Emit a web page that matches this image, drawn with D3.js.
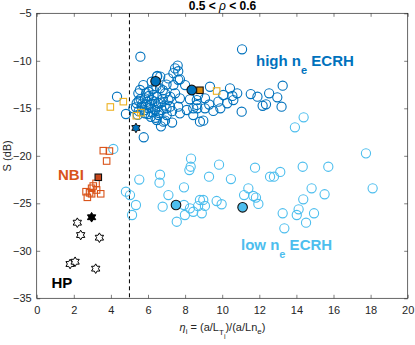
<!DOCTYPE html>
<html><head><meta charset="utf-8">
<script src="https://cdn.jsdelivr.net/npm/d3@7"></script>
<style>body{margin:0;background:#fff}svg{display:block}text{font-family:"Liberation Sans",Arial,sans-serif}</style>
</head><body>
<svg id="c" width="415" height="345"></svg>
<script>
// ---- data ----
const xTicks = [0,2,4,6,8,10,12,14,16,18,20];
const yTicks = [-35,-30,-25,-20,-15,-10,-5];
const threshold = 5;
const highNeECRH = [
 [5.59,-9.57],[4.33,-13.78],[4.81,-15.6],[5.77,-18.05],[7.60,-10.5],[7.63,-11.1],[7.72,-11.95],[6.5,-11.6],
 [11.07,-8.79],[9.34,-12.73],[9.07,-13.95],[8.63,-14.13],[8.66,-15.0],[9.07,-15.0],[9.52,-15.28],[9.79,-14.3],
 [10.06,-13.6],[10.27,-14.47],[10.42,-12.9],[10.6,-14.13],[10.55,-13.7],[10.81,-13.42],[11.05,-15.36],[11.54,-13.5],
 [12.18,-14.73],[12.36,-14.58],[12.53,-13.42],[12.97,-13.84],[13.2,-14.83],[13.26,-12.62],[8.98,-16.3],[8.44,-15.0],
 [11.9,-13.78],[6.92,-16.3],[7.37,-11.3],[7.1,-11.85],[7.63,-12.0],[8.0,-12.55],[5.75,-12.55],[5.57,-13.07],
 [6.02,-13.25],[6.65,-12.9],[6.92,-13.42],[7.46,-13.42],[7.72,-13.95],[8.26,-14.05],[8.63,-14.65],[7.63,-14.83],
 [7.72,-15.53],[8.09,-15.18],[7.19,-14.83],[6.56,-14.47],[6.2,-14.13],[5.84,-13.95],[5.39,-14.47],[5.66,-14.83],
 [5.21,-15.0],[6.02,-15.0],[6.38,-15.18],[6.74,-15.18],[5.84,-15.53],[6.56,-15.71],[7.01,-15.71],[6.83,-16.41],
 [6.47,-16.23],[8.8,-16.41],[5.48,-13.42],[8.44,-15.71],[7.1,-14.13],[6.47,-13.78],[6.66,-11.67],[6.48,-11.67],
 [7.37,-12.55],[6.1,-14.6],[6.3,-13.6],[5.95,-14.3],[6.8,-14.0],[7.3,-15.3],[5.5,-15.3],[6.15,-15.9],
 [8.7,-13.6],[9.3,-14.6],[9.9,-15.0],[7.0,-12.5],[6.2,-12.2],
 [5.6,-14.0],[5.9,-14.6],[6.2,-15.4],[6.5,-14.9],[6.7,-14.4],[5.45,-15.7],[5.8,-15.2],[6.05,-13.7],
 [6.35,-14.3],[6.6,-15.5],[6.9,-14.7],[5.7,-14.5],[6.0,-15.6],[6.25,-13.0],[6.45,-12.7],[5.9,-13.4],
 [6.8,-13.1],[7.2,-13.8],[5.5,-14.2],[6.15,-14.9],[6.4,-16.0],[5.35,-14.9],[7.0,-15.0],[6.7,-16.9],
 [7.3,-16.5],[7.46,-10.8]
];
const lowNeECRH = [
 [4.13,-19.28],[8.32,-20.3],[8.30,-21.15],[6.65,-21.99],[5.53,-22.5],[9.29,-22.2],[14.39,-15.95],[13.92,-17.0],
 [17.75,-19.74],[9.83,-20.93],[11.77,-21.25],[13.13,-21.7],[14.34,-21.15],[15.72,-21.15],[10.47,-22.45],[12.58,-22.2],
 [12.79,-22.2],[11.41,-23.42],[11.18,-24.13],[11.68,-24.23],[11.82,-24.4],[11.95,-25.07],[9.7,-24.76],[9.97,-25.1],
 [8.98,-24.65],[9.07,-25.28],[8.9,-26.05],[14.82,-23.42],[15.52,-24.05],[14.37,-24.58],[14.12,-25.63],[14.02,-26.23],
 [14.95,-26.05],[14.52,-27.04],[13.26,-26.05],[13.35,-27.63],[18.11,-23.42],[4.81,-23.78],[5.03,-24.13],[5.35,-25.18],
 [5.14,-26.23],[6.62,-22.83],[7.1,-24.13],[6.79,-25.36],[7.55,-26.94],[7.99,-26.23],[7.94,-25.18],[7.94,-23.32],
 [8.23,-21.5],[8.8,-24.65],[8.44,-25.89],[8.26,-25.53],[8.7,-25.3]
];
const highNeHighlight = [[6.41,-12.16],[8.36,-13.07]];
const lowNeHighlight = [[7.51,-25.18],[11.1,-25.42]];
const mixedSquares = [[3.97,-14.86],[4.67,-14.3],[5.37,-15.78],[5.62,-15.46],[9.7,-13.18]];
const mixedHighlight = [[8.80,-13.1]];
const nbi = [[3.59,-19.46],[3.92,-19.5],[3.77,-20.55],[3.2,-22.9],[3.05,-23.18],[2.96,-23.42],[2.66,-23.78],
 [2.73,-24.37],[2.96,-24.0],[3.45,-24.0],[3.23,-23.6],[2.85,-23.9]];
const nbiHighlight = [[3.32,-22.26]];
const hp = [[2.19,-27.04],[2.37,-28.34],[3.38,-28.62],[1.8,-31.39],[2.07,-31.15],[3.18,-31.88]];
const hpHighlight = [[2.96,-26.47]];
const blueStar = [[5.35,-17.07]];

// ---- chart ----
const svg = d3.select("#c");
const x = d3.scaleLinear().domain([0,20]).range([36.7,407.7]);
const y = d3.scaleLinear().domain([-35,-5]).range([298.3,13.3]);
const axisCol = "#262626";
const C = {dark:"#0072BD", light:"#4DBEEE", yel:"#EDB120", nbi:"#D95319"};

function styleAxis(g){
  g.select(".domain").remove();
  g.selectAll(".tick line").attr("stroke",axisCol).attr("stroke-width",0.6);
  g.selectAll(".tick text").attr("fill",axisCol).attr("font-size",11);
}
svg.append("g").attr("transform","translate(0,298.3)")
  .call(d3.axisBottom(x).tickValues(xTicks).tickSize(-3.5).tickPadding(8)).call(styleAxis);
svg.append("g").attr("transform","translate(0,13.3)")
  .call(d3.axisTop(x).tickValues(xTicks).tickSize(-3.5).tickFormat("")).call(styleAxis);
svg.append("g").attr("transform","translate(36.7,0)")
  .call(d3.axisLeft(y).tickValues(yTicks).tickSize(-3.5).tickPadding(5)).call(styleAxis);
svg.append("g").attr("transform","translate(407.7,0)")
  .call(d3.axisRight(y).tickValues(yTicks).tickSize(-3.5).tickFormat("")).call(styleAxis);
svg.append("rect").attr("x",x(0)).attr("y",y(-5)).attr("width",x(20)-x(0)).attr("height",y(-35)-y(-5))
  .attr("fill","none").attr("stroke",axisCol).attr("stroke-width",0.7);

const plot = svg.append("g");
// dashed threshold
plot.append("line").attr("x1",x(threshold)).attr("x2",x(threshold)).attr("y1",y(-5)).attr("y2",y(-35))
  .attr("stroke","#000").attr("stroke-width",1).attr("stroke-dasharray","4,3");

function circles(data, stroke, fill, r){
  plot.append("g").selectAll("circle").data(data).join("circle")
    .attr("cx",d=>x(d[0])).attr("cy",d=>y(d[1])).attr("r",r)
    .attr("fill",fill).attr("stroke",stroke).attr("stroke-width",1.1);
}
function squares(data, stroke, fill, s){
  plot.append("g").selectAll("rect").data(data).join("rect")
    .attr("x",d=>x(d[0])-s/2).attr("y",d=>y(d[1])-s/2).attr("width",s).attr("height",s)
    .attr("fill",fill).attr("stroke",stroke).attr("stroke-width",1.1);
}
function hexagram(R){
  const r = R/Math.sqrt(3), pts=[];
  for(let i=0;i<12;i++){const a=-Math.PI/2+i*Math.PI/6, rr=i%2?r:R; pts.push([rr*Math.cos(a),rr*Math.sin(a)]);}
  return "M"+pts.map(p=>p.join(",")).join("L")+"Z";
}
function stars(data, stroke, fill, R){
  plot.append("g").selectAll("path").data(data).join("path")
    .attr("transform",d=>`translate(${x(d[0])},${y(d[1])})`).attr("d",hexagram(R))
    .attr("fill",fill).attr("stroke",stroke).attr("stroke-width",1);
}
circles(highNeECRH, C.dark, "none", 4.6);
circles(lowNeECRH, C.light, "none", 4.6);
squares(mixedSquares, C.yel, "none", 6.5);
squares(nbi, C.nbi, "none", 6.5);
stars(hp, "#000", "#fff", 4.8);
circles(highNeHighlight, "#111", C.dark, 4.8);
circles(lowNeHighlight, "#111", C.light, 4.8);
squares(mixedHighlight, "#111", "#D98A0E", 6.5);
squares(nbiHighlight, "#111", "#C8461A", 6.5);
stars(hpHighlight, "#000", "#000", 4.8);
stars(blueStar, "#111", C.dark, 4.8);

// labels
function groupLabel(xp, yp, main, sub, rest, col){
  const t = svg.append("text").attr("x",xp).attr("y",yp).attr("fill",col)
    .attr("font-size",15).attr("font-weight","bold");
  t.append("tspan").text(main);
  if(sub){ t.append("tspan").attr("dy",7.5).attr("font-size",11).text(sub);
    t.append("tspan").attr("dy",-7.5).text(rest); }
}
groupLabel(256,66.3,"high n","e"," ECRH",C.dark);
groupLabel(241,250,"low n","e"," ECRH",C.light);
groupLabel(58,179.5,"NBI",null,null,C.nbi);
groupLabel(51.5,288,"HP",null,null,"#000");

// title
const tt = svg.append("text").attr("x",222.5).attr("y",10).attr("text-anchor","middle")
  .attr("font-size",12).attr("font-weight","bold").attr("fill","#000");
tt.append("tspan").text("0.5 < ");
tt.append("tspan").attr("font-style","italic").attr("font-weight","normal").text("ρ");
tt.append("tspan").text(" < 0.6");

// y label
svg.append("text").attr("transform","translate(11,155.8) rotate(-90)").attr("text-anchor","middle")
  .attr("font-size",11).attr("fill",axisCol).text("S (dB)");

// x label
const xl = svg.append("text").attr("x",222.5).attr("y",331).attr("text-anchor","middle")
  .attr("font-size",11).attr("fill",axisCol);
xl.append("tspan").attr("font-style","italic").text("η");
xl.append("tspan").attr("dy",3).attr("font-size",8).text("i");
xl.append("tspan").attr("dy",-3).text(" = (a/L");
xl.append("tspan").attr("dy",4).attr("font-size",8).text("T");
xl.append("tspan").attr("dy",4).attr("font-size",7).text("i");
xl.append("tspan").attr("dy",-8).text(")/(a/Ln");
xl.append("tspan").attr("dy",3).attr("font-size",8).text("e");
xl.append("tspan").attr("dy",-3).text(")");
</script>
</body></html>
